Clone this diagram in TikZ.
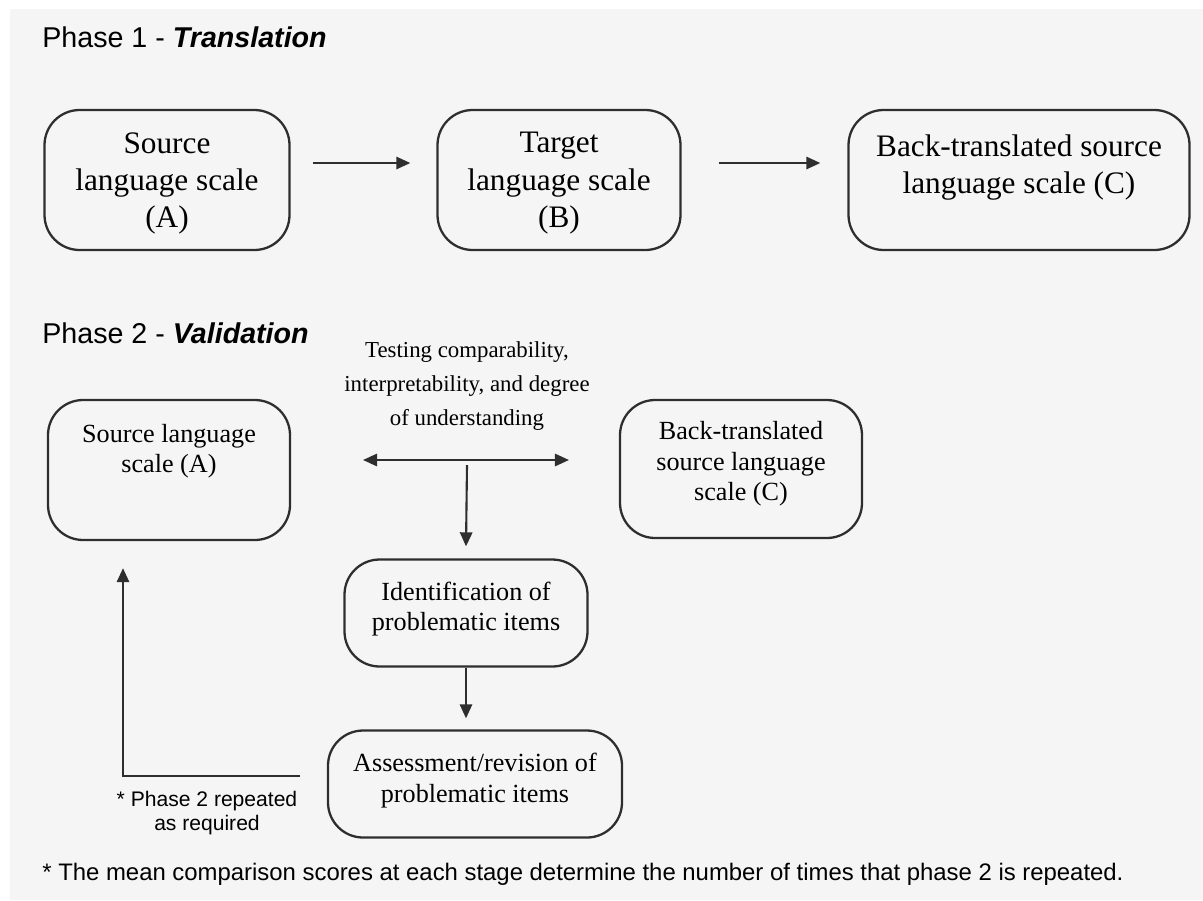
\documentclass[tikz,border=0pt]{standalone}
\usepackage{fontspec}
\setmainfont{Liberation Serif}
\setsansfont{Liberation Sans}
\usetikzlibrary{arrows.meta, positioning}
\definecolor{pagebg}{HTML}{F5F5F5}
\definecolor{edge}{HTML}{2E2E2E}
\tikzset{
  % scatola arrotondata di una fase
  stage/.style={draw=edge, line width=1.3pt, rounded corners=20pt, align=center,
    fill=pagebg, inner sep=0pt, font=\fontsize{17.8}{21.2}\selectfont},
  % scatola piccola della fase 2
  stage small/.style={stage, font=\fontsize{14.9}{17.2}\selectfont},
  % titolo di fase
  phase/.style={anchor=base west, inner sep=0pt, font=\sffamily\fontsize{16.3}{19}\selectfont},
  % freccia di flusso
  flow/.style={-{Triangle[length=8pt, width=7pt]}, line width=1.2pt, edge},
  % etichette piccole
  lbl/.style={font=\fontsize{13}{19.5}\selectfont, align=center},
  smalllbl/.style={font=\sffamily\fontsize{12}{13.2}\selectfont, align=center},
}
\begin{document}
\begin{tikzpicture}[x=0.02cm, y=-0.02cm]
  \useasboundingbox (0,0) rectangle (1203,900);
  \fill[pagebg] (10,9) rectangle (1203,900);
  % fase 1
  \node[phase] (t1) at (42,47) {Phase 1 - \textbf{\textit{Translation}}};
  \node[stage, minimum width=245*0.02cm, minimum height=140*0.02cm, text depth=0pt] (a1) at (167,180)
    {Source\\language scale\\(A)};
  \node[stage, minimum width=243*0.02cm, minimum height=140*0.02cm, text depth=0pt] (b1) at (559,180)
    {Target\\language scale\\(B)};
  \node[stage, minimum width=341*0.02cm, minimum height=140*0.02cm, text depth=18pt] (c1) at (1019,180)
    {Back-translated source\\language scale (C)};
  \draw[flow] ([xshift=22*0.02cm, yshift=17*0.02cm]a1.east) -- ([xshift=-26*0.02cm, yshift=17*0.02cm]b1.west);
  \draw[flow] ([xshift=37*0.02cm, yshift=17*0.02cm]b1.east) -- ([xshift=-27*0.02cm, yshift=17*0.02cm]c1.west);
  % fase 2
  \node[phase] (t2) at (42,343) {Phase 2 - \textbf{\textit{Validation}}};
  \node[stage small, minimum width=242*0.02cm, minimum height=140*0.02cm, text depth=25pt] (a2) at (169,470)
    {Source language\\scale (A)};
  \node[stage small, minimum width=242*0.02cm, minimum height=138*0.02cm, text depth=9pt] (c2) at (741,469)
    {Back-translated\\source language\\scale (C)};
  \node[lbl] (test) at (467,386) {Testing comparability,\\interpretability, and degree\\of understanding};
  \coordinate (dl) at (363,460);
  \coordinate (dr) at (569,460);
  \coordinate (dm) at (467,465);
  \draw[{Triangle[length=8pt, width=7pt]}-{Triangle[length=8pt, width=7pt]}, line width=1.2pt, edge] (dl) -- (dr);
  \node[stage small, minimum width=243*0.02cm, minimum height=107*0.02cm, text depth=8pt] (id) at (466,613)
    {Identification of\\problematic items};
  \node[stage small, minimum width=294*0.02cm, minimum height=107*0.02cm, text depth=7pt] (as) at (475,784)
    {Assessment/revision of\\problematic items};
  \draw[flow] (dm) -- ([yshift=12*0.02cm]id.north);
  \draw[flow] (id.south -| 466,0) -- ([yshift=11*0.02cm]as.north -| 466,0);
  % ritorno alla fase 2
  \coordinate (back) at (300,776);
  \draw[flow] (back) -- (123,776) -- ([yshift=-27*0.02cm]a2.south -| 123,0);
  \node[smalllbl] (rep) at (207,813) {* Phase 2 repeated\\as required};
  % nota
  \node[anchor=base west, inner sep=0pt, font=\sffamily\fontsize{13.6}{16}\selectfont] (note) at (42,880)
    {* The mean comparison scores at each stage determine the number of times that phase 2 is repeated.};
\end{tikzpicture}
\end{document}
